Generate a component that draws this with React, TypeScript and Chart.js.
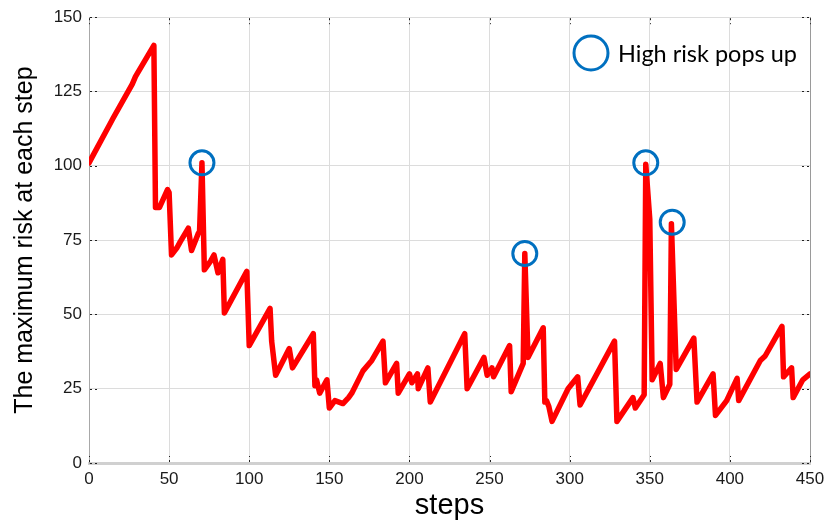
import React, { useEffect, useRef } from "react";
import { Chart, registerables } from "chart.js";

Chart.register(...registerables);

const steps = [
  0, 13, 15, 27, 29, 40.5, 41.5, 44, 49, 50, 51.5, 55, 57, 62, 64, 68, 69, 70.5, 72,
  76, 78, 80.5, 83.5, 84.5, 98.5, 100, 113, 114, 116.5, 125, 127, 140, 141, 142, 144,
  148.5, 150, 153.5, 158.5, 162, 164, 171, 176.5, 183.5, 185, 192, 193, 200, 201.5,
  205, 205.5, 211.5, 213, 234.5, 236, 246.5, 248.5, 251.5, 252.5, 262.5, 263.5, 271,
  272, 274, 283.5, 284.5, 285.5, 287, 289, 299, 305, 306.5, 319, 328, 329.5, 339.5,
  341, 346.5, 347.5, 350, 351.5, 356.5, 358.5, 362.5, 363.5, 366.5, 377.5, 379.5,
  389.5, 391, 398, 404.5, 405.5, 419, 422, 432.5, 433.5, 438.5, 439.5, 445.5, 450,
];
const risk = [
  101, 114, 116, 127.5, 130, 140.5, 86, 86, 92, 91, 70, 72.5, 74.5, 79, 71.5, 77, 78, 101, 65,
  68, 70, 64, 68.5, 50.5, 64.5, 39.5, 52, 41, 29.5, 38.5, 32, 43.5, 26, 28, 23.5,
  28, 18.5, 21, 20, 22, 23.5, 31, 34.5, 41, 27, 33.5, 23.5, 30, 27,
  30, 25, 32, 20.5, 43.5, 25, 35.5, 29.5, 32, 29, 39.5, 24, 33.5,
  70.5, 35.5, 45.5, 20.5, 21, 19, 14, 25, 29, 19.5, 32, 41, 14, 22,
  18.5, 23, 100.5, 82, 28, 33.5, 22, 26.5, 80.5, 31.5, 42, 20.5,
  30, 16, 21, 28.5, 21, 34.5, 36, 46, 29, 32, 22, 28, 30,
];

const popSteps = [70.5, 272, 347.5, 364];
const popValues = [101, 70.5, 101, 81];

const xTicks = [0, 50, 100, 150, 200, 250, 300, 350, 400, 450];
const yTicks = [0, 25, 50, 75, 100, 125, 150];

const legendLabel = "High risk pops up";
const xTitle = "steps";
const yTitle = "The maximum risk at each step";

const BLUE = "#0070c0";

const decorPlugin = {
  id: "decor",
  afterDraw(chart: any) {
    const ctx = chart.ctx;
    const { left, right, top, bottom } = chart.chartArea;
    const xs = chart.scales.x;
    const ys = chart.scales.y;
    ctx.save();
    ctx.strokeStyle = "#9a9a9a";
    ctx.lineWidth = 1;
    ctx.beginPath();
    ctx.moveTo(right + 0.5, top);
    ctx.lineTo(right + 0.5, bottom);
    ctx.stroke();
    ctx.strokeStyle = "#222";
    ctx.lineWidth = 1;
    ctx.setLineDash([2, 3]);
    xTicks.forEach((v) => {
      const px = Math.round(xs.getPixelForValue(v)) + 0.5;
      ctx.beginPath();
      ctx.moveTo(px, bottom - 1);
      ctx.lineTo(px, bottom - 7);
      ctx.moveTo(px, top + 1);
      ctx.lineTo(px, top + 7);
      ctx.stroke();
    });
    yTicks.forEach((v) => {
      const py = Math.round(ys.getPixelForValue(v)) + 0.5;
      ctx.beginPath();
      ctx.moveTo(left + 1, py);
      ctx.lineTo(left + 9, py);
      ctx.moveTo(right - 1, py);
      ctx.lineTo(right - 9, py);
      ctx.stroke();
    });
    ctx.setLineDash([]);
    ctx.strokeStyle = BLUE;
    ctx.lineWidth = 3;
    ctx.beginPath();
    ctx.arc(591, 53, 17, 0, Math.PI * 2);
    ctx.stroke();
    ctx.fillStyle = "#000";
    ctx.textBaseline = "middle";
    ctx.textAlign = "left";
    let size = 24;
    ctx.font = `${size}px Lato, "Noto Sans", sans-serif`;
    const w = ctx.measureText(legendLabel).width;
    size = size * (179 / w);
    ctx.font = `${size}px Lato, "Noto Sans", sans-serif`;
    ctx.fillText(legendLabel, 618, 54);
    ctx.restore();
  },
};

export default function App() {
  const ref = useRef<HTMLCanvasElement | null>(null);
  useEffect(() => {
    document.body.style.margin = "0";
    const canvas = ref.current;
    if (!canvas) return;
    const chart = new Chart(canvas, {
      type: "line",
      data: {
        datasets: [
          {
            type: "scatter",
            data: popSteps.map((s, i) => ({ x: s, y: popValues[i] })),
            pointRadius: 12,
            pointHoverRadius: 12,
            pointBorderWidth: 3,
            borderColor: BLUE,
            pointBorderColor: BLUE,
            backgroundColor: "rgba(0,0,0,0)",
            pointBackgroundColor: "rgba(0,0,0,0)",
          } as any,
          {
            data: steps.map((s, i) => ({ x: s, y: risk[i] })),
            borderColor: "#ff0000",
            borderWidth: 5.5,
            pointRadius: 0,
            tension: 0,
            borderJoinStyle: "round",
            borderCapStyle: "round",
            fill: false,
          },
        ],
      },
      options: {
        responsive: false,
        animation: false,
        layout: { padding: { left: 0, right: 21, top: 15, bottom: 0 } },
        plugins: { legend: { display: false }, tooltip: { enabled: false } },
        scales: {
          x: {
            type: "linear",
            min: 0,
            max: 450,
            afterBuildTicks: (s: any) => {
              s.ticks = xTicks.map((v) => ({ value: v }));
            },
            afterFit: (s: any) => {
              s.height = 62;
            },
            ticks: {
              color: "#1a1a1a",
              font: { family: '"Liberation Sans", Arial, sans-serif', size: 17 },
              padding: 6,
              maxRotation: 0,
            },
            grid: { color: "#dcdcdc", lineWidth: 1, drawTicks: false },
            border: { color: "#d0d0d0", width: 3 },
            title: {
              display: true,
              text: xTitle,
              color: "#000",
              font: { family: '"Liberation Sans", Arial, sans-serif', size: 29 },
              padding: { top: 0, bottom: 2 },
            },
          },
          y: {
            type: "linear",
            min: 0,
            max: 150,
            afterBuildTicks: (s: any) => {
              s.ticks = yTicks.map((v) => ({ value: v }));
            },
            afterFit: (s: any) => {
              s.width = 89;
            },
            ticks: {
              color: "#1a1a1a",
              font: { family: '"Liberation Sans", Arial, sans-serif', size: 17 },
              padding: 7,
            },
            grid: { color: "#dcdcdc", lineWidth: 1, drawTicks: false },
            border: { color: "#a8a8a8", width: 1 },
            title: {
              display: true,
              text: yTitle,
              color: "#000",
              font: { family: '"Liberation Sans", Arial, sans-serif', size: 25 },
              padding: { top: 10, bottom: 0 },
            },
          },
        },
      },
      plugins: [decorPlugin],
    });
    return () => chart.destroy();
  }, []);
  return (
    <div style={{ width: 831, height: 525 }}>
      <canvas ref={ref} width={831} height={525} />
    </div>
  );
}
